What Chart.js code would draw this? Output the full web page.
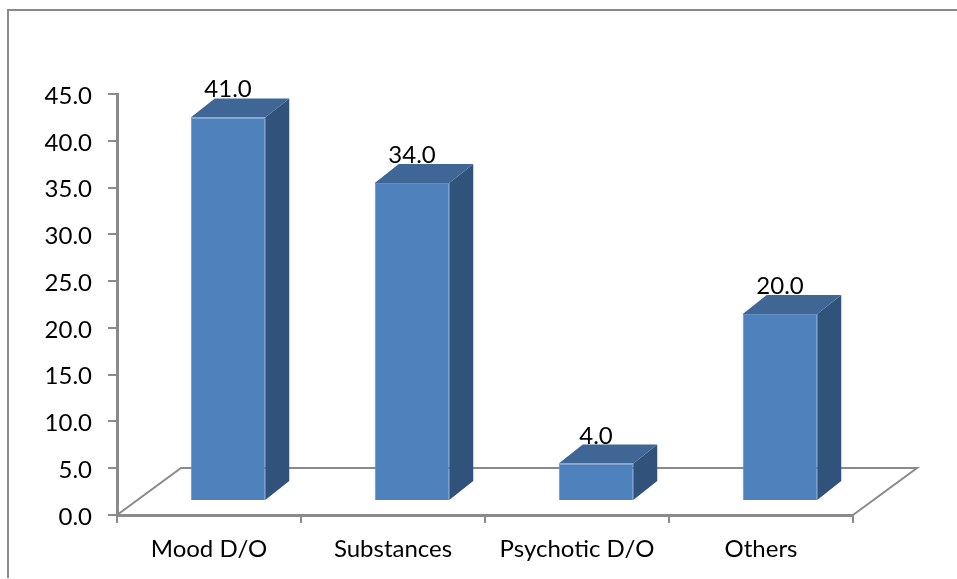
<!DOCTYPE html>
<html>
<head>
<meta charset="utf-8">
<title>Chart</title>
<script src="https://cdn.jsdelivr.net/npm/chart.js@4/dist/chart.umd.min.js"></script>
<style>
  html, body { margin: 0; padding: 0; background: #fff; }
  canvas { display: block; }
</style>
</head>
<body>
<canvas id="myChart" width="957" height="579"></canvas>
<script>
const categories = ["Mood D/O", "Substances", "Psychotic D/O", "Others"];
const values = [41.0, 34.0, 4.0, 20.0];
const yMax = 45;
const yStep = 5;

const axisColor = "#8a8a8a";
const frontColor = "#4f81bd";
const topColor = "#3f6695";
const sideColor = "#30527b";
const fontName = "Lato, 'Open Sans', sans-serif";
const fontSize = 24;

// how far the bars stand in from the front of the floor
const barShift = { x: 19, y: -14 };
const barDepth = { x: 24, y: -19 };
const floorDepth = { x: 64, y: -47 };

function fillPoly(ctx, points, color) {
  ctx.fillStyle = color;
  ctx.beginPath();
  ctx.moveTo(points[0][0], points[0][1]);
  points.slice(1).forEach((p) => ctx.lineTo(p[0], p[1]));
  ctx.closePath();
  ctx.fill();
}

const fake3d = {
  id: "fake3d",
  beforeDraw(chart) {
    // Lato digits sit high in the line, so push the y labels down a little
    const scale = chart.scales.y;
    if (!scale.labelsShifted) {
      const drawLabels = scale.drawLabels;
      scale.drawLabels = function (area) {
        this.ctx.save();
        this.ctx.translate(0, 2);
        drawLabels.call(this, area);
        this.ctx.restore();
      };
      scale.labelsShifted = true;
    }
  },
  beforeDatasetsDraw(chart) {
    const ctx = chart.ctx;
    const area = chart.chartArea;
    ctx.save();
    // outer frame, open on the right
    ctx.strokeStyle = axisColor;
    ctx.lineWidth = 2;
    ctx.beginPath();
    ctx.moveTo(8, 578);
    ctx.lineTo(8, 10);
    ctx.lineTo(chart.width, 10);
    ctx.stroke();
    // floor
    ctx.beginPath();
    ctx.moveTo(area.left, area.bottom);
    ctx.lineTo(area.left + floorDepth.x, area.bottom + floorDepth.y);
    ctx.lineTo(area.right + floorDepth.x, area.bottom + floorDepth.y);
    ctx.lineTo(area.right, area.bottom);
    ctx.stroke();
    // side and top faces of the bars
    chart.getDatasetMeta(0).data.forEach((bar) => {
      const left = bar.x - bar.width / 2 + barShift.x;
      const right = bar.x + bar.width / 2 + barShift.x;
      const top = bar.y + barShift.y;
      const bottom = bar.base + barShift.y;
      fillPoly(ctx, [[right, top], [right + barDepth.x, top + barDepth.y],
        [right + barDepth.x, bottom + barDepth.y], [right, bottom]], sideColor);
      fillPoly(ctx, [[left, top], [left + barDepth.x, top + barDepth.y],
        [right + barDepth.x, top + barDepth.y], [right, top]], topColor);
    });
    ctx.restore();
  },
  beforeDatasetDraw(chart) {
    chart.ctx.save();
    chart.ctx.translate(barShift.x, barShift.y);
  },
  afterDatasetDraw(chart) {
    chart.ctx.restore();
  },
  afterDatasetsDraw(chart) {
    const ctx = chart.ctx;
    ctx.save();
    ctx.fillStyle = "#000";
    ctx.font = fontSize + "px " + fontName;
    ctx.textAlign = "center";
    ctx.textBaseline = "alphabetic";
    chart.getDatasetMeta(0).data.forEach((bar, i) => {
      ctx.fillText(values[i].toFixed(1), bar.x + barShift.x, bar.y + barShift.y - 20);
    });
    ctx.restore();
  },
};

new Chart(document.getElementById("myChart"), {
  type: "bar",
  data: {
    labels: categories,
    datasets: [
      {
        data: values,
        backgroundColor: frontColor,
        borderColor: "#648fc5",
        borderWidth: 1,
        barPercentage: 0.405,
        categoryPercentage: 1,
      },
    ],
  },
  options: {
    responsive: false,
    animation: false,
    layout: { padding: { top: 94, right: 104, left: 0, bottom: 0 } },
    plugins: { legend: { display: false }, tooltip: { enabled: false } },
    scales: {
      x: {
        afterFit: (scale) => { scale.height = 64; },
        grid: { drawOnChartArea: false, color: axisColor, lineWidth: 2, tickLength: 8 },
        border: { color: axisColor, width: 3 },
        ticks: {
          color: "#000",
          font: { family: fontName, size: fontSize },
          padding: 12,
          maxRotation: 0,
          autoSkip: false,
        },
      },
      y: {
        min: 0,
        max: yMax,
        afterFit: (scale) => { scale.width = 117; },
        grid: { drawOnChartArea: false, color: axisColor, lineWidth: 2, tickLength: 9 },
        border: { color: axisColor, width: 3 },
        ticks: {
          stepSize: yStep,
          color: "#000",
          font: { family: fontName, size: fontSize },
          padding: 16,
          callback: (v) => Number(v).toFixed(1),
        },
      },
    },
  },
  plugins: [fake3d],
});
</script>
</body>
</html>
